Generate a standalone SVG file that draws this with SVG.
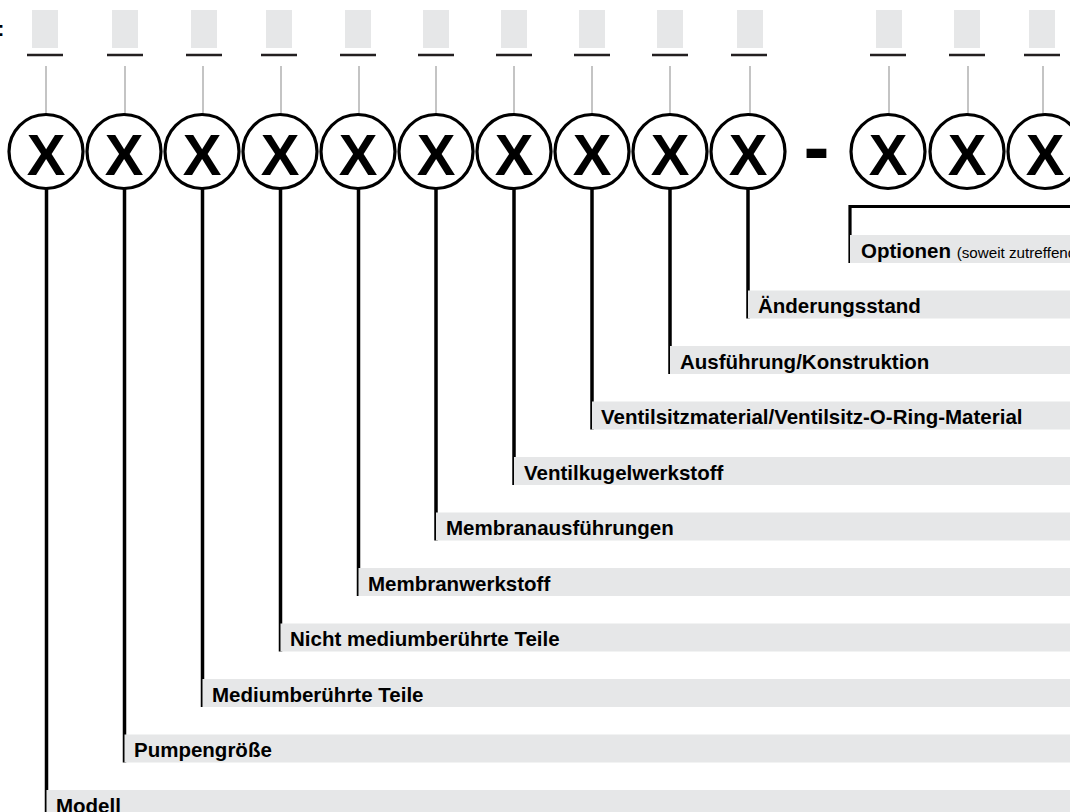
<svg xmlns="http://www.w3.org/2000/svg" width="1070" height="812" viewBox="0 0 1070 812">
<style>
.ph{fill:#e6e7e8}
.ul{stroke:#231f20;stroke-width:2.5}
.th{stroke:#9d9d9d;stroke-width:1.2}
.c{fill:#fff;stroke:#000;stroke-width:3.2}
.x{font-family:"Liberation Sans",Arial,sans-serif;font-weight:bold;font-size:58px;text-anchor:middle;fill:#000}
.bar{fill:#e6e7e8}
.ld{stroke:#000;stroke-width:3.5;fill:none}
.lb{font-family:"Liberation Sans",Arial,sans-serif;font-weight:bold;font-size:20.5px;fill:#000}
.sm{font-weight:normal;font-size:15.2px}
</style>
<rect width="1070" height="812" fill="#fff"/>
<text class="lb" x="-2.5" y="36">:</text>
<g id="slots">
<g id="slot1"><rect class="ph" x="32" y="10" width="26" height="38"/><line class="ul" x1="27" y1="55" x2="63" y2="55"/><line class="th" x1="46" y1="66" x2="46" y2="114"/></g>
<g id="slot2"><rect class="ph" x="112" y="10" width="26" height="38"/><line class="ul" x1="107" y1="55" x2="143" y2="55"/><line class="th" x1="125" y1="66" x2="125" y2="114"/></g>
<g id="slot3"><rect class="ph" x="191" y="10" width="26" height="38"/><line class="ul" x1="186" y1="55" x2="222" y2="55"/><line class="th" x1="203" y1="66" x2="203" y2="114"/></g>
<g id="slot4"><rect class="ph" x="266" y="10" width="26" height="38"/><line class="ul" x1="261" y1="55" x2="297" y2="55"/><line class="th" x1="281" y1="66" x2="281" y2="114"/></g>
<g id="slot5"><rect class="ph" x="345" y="10" width="26" height="38"/><line class="ul" x1="340" y1="55" x2="376" y2="55"/><line class="th" x1="359" y1="66" x2="359" y2="114"/></g>
<g id="slot6"><rect class="ph" x="423" y="10" width="26" height="38"/><line class="ul" x1="418" y1="55" x2="454" y2="55"/><line class="th" x1="436" y1="66" x2="436" y2="114"/></g>
<g id="slot7"><rect class="ph" x="501" y="10" width="26" height="38"/><line class="ul" x1="496" y1="55" x2="532" y2="55"/><line class="th" x1="514" y1="66" x2="514" y2="114"/></g>
<g id="slot8"><rect class="ph" x="579" y="10" width="26" height="38"/><line class="ul" x1="574" y1="55" x2="610" y2="55"/><line class="th" x1="592" y1="66" x2="592" y2="114"/></g>
<g id="slot9"><rect class="ph" x="657" y="10" width="26" height="38"/><line class="ul" x1="652" y1="55" x2="688" y2="55"/><line class="th" x1="670" y1="66" x2="670" y2="114"/></g>
<g id="slot10"><rect class="ph" x="737" y="10" width="26" height="38"/><line class="ul" x1="731" y1="55" x2="767" y2="55"/><line class="th" x1="750" y1="66" x2="750" y2="114"/></g>
<g id="slot11"><rect class="ph" x="876" y="10" width="26" height="38"/><line class="ul" x1="870" y1="55" x2="906" y2="55"/><line class="th" x1="889" y1="66" x2="889" y2="114"/></g>
<g id="slot12"><rect class="ph" x="954" y="10" width="26" height="38"/><line class="ul" x1="949" y1="55" x2="985" y2="55"/><line class="th" x1="968" y1="66" x2="968" y2="114"/></g>
<g id="slot13"><rect class="ph" x="1029" y="10" width="26" height="38"/><line class="ul" x1="1024" y1="55" x2="1060" y2="55"/><line class="th" x1="1043" y1="66" x2="1043" y2="114"/></g>
</g>
<g id="connectors">
<line class="ld" x1="46.5" y1="189" x2="46.5" y2="812"/>
<line class="ld" x1="124.5" y1="189" x2="124.5" y2="762.5"/>
<line class="ld" x1="202.5" y1="189" x2="202.5" y2="707"/>
<line class="ld" x1="280.5" y1="189" x2="280.5" y2="651.5"/>
<line class="ld" x1="358.5" y1="189" x2="358.5" y2="596"/>
<line class="ld" x1="436" y1="189" x2="436" y2="540.5"/>
<line class="ld" x1="514" y1="189" x2="514" y2="485"/>
<line class="ld" x1="592" y1="189" x2="592" y2="429.5"/>
<line class="ld" x1="670" y1="189" x2="670" y2="374"/>
<line class="ld" x1="748" y1="189" x2="748" y2="318.5"/>
<polyline class="ld" points="850,263 850,206.5 1070,206.5" style="stroke-width:3.2"/>
</g>
<g id="circles">
<g id="c1"><circle class="c" cx="46" cy="151.5" r="37"/><text class="x" x="46" y="175">X</text></g>
<g id="c2"><circle class="c" cx="124" cy="151.5" r="37"/><text class="x" x="124" y="175">X</text></g>
<g id="c3"><circle class="c" cx="202" cy="151.5" r="37"/><text class="x" x="202" y="175">X</text></g>
<g id="c4"><circle class="c" cx="280" cy="151.5" r="37"/><text class="x" x="280" y="175">X</text></g>
<g id="c5"><circle class="c" cx="358" cy="151.5" r="37"/><text class="x" x="358" y="175">X</text></g>
<g id="c6"><circle class="c" cx="436" cy="151.5" r="37"/><text class="x" x="436" y="175">X</text></g>
<g id="c7"><circle class="c" cx="514" cy="151.5" r="37"/><text class="x" x="514" y="175">X</text></g>
<g id="c8"><circle class="c" cx="592" cy="151.5" r="37"/><text class="x" x="592" y="175">X</text></g>
<g id="c9"><circle class="c" cx="670" cy="151.5" r="37"/><text class="x" x="670" y="175">X</text></g>
<g id="c10"><circle class="c" cx="748" cy="151.5" r="37"/><text class="x" x="748" y="175">X</text></g>
<text class="x" x="816.5" y="174" style="font-size:78px">-</text>
<g id="c11"><circle class="c" cx="888" cy="151.5" r="37"/><text class="x" x="888" y="175">X</text></g>
<g id="c12"><circle class="c" cx="967" cy="151.5" r="37"/><text class="x" x="967" y="175">X</text></g>
<g id="c13"><circle class="c" cx="1045" cy="151.5" r="37"/><text class="x" x="1045" y="175">X</text></g>
</g>
<g id="labels">
<g id="l-optionen"><rect class="bar" x="850" y="235" width="220" height="28"/><text class="lb" x="861" y="257.5">Optionen <tspan class="sm">(soweit zutreffend)</tspan></text></g>
<g id="l-aend"><rect class="bar" x="748" y="290.5" width="322" height="28"/><text class="lb" x="758" y="313">Änderungsstand</text></g>
<g id="l-ausf"><rect class="bar" x="670" y="346" width="400" height="28"/><text class="lb" x="680" y="368.5">Ausführung/Konstruktion</text></g>
<g id="l-vsitz"><rect class="bar" x="592" y="401.5" width="478" height="28"/><text class="lb" x="601" y="424">Ventilsitzmaterial/Ventilsitz-O-Ring-Material</text></g>
<g id="l-vkugel"><rect class="bar" x="514" y="457" width="556" height="28"/><text class="lb" x="524" y="479.5">Ventilkugelwerkstoff</text></g>
<g id="l-mausf"><rect class="bar" x="436" y="512.5" width="634" height="28"/><text class="lb" x="446" y="535">Membranausführungen</text></g>
<g id="l-mwerk"><rect class="bar" x="358.5" y="568" width="712" height="28"/><text class="lb" x="368" y="590.5">Membranwerkstoff</text></g>
<g id="l-nicht"><rect class="bar" x="280.5" y="623.5" width="790" height="28"/><text class="lb" x="290" y="646">Nicht mediumberührte Teile</text></g>
<g id="l-medium"><rect class="bar" x="202.5" y="679" width="868" height="28"/><text class="lb" x="212" y="701.5">Mediumberührte Teile</text></g>
<g id="l-pumpe"><rect class="bar" x="124.5" y="734.5" width="946" height="28"/><text class="lb" x="134" y="757">Pumpengröße</text></g>
<g id="l-modell"><rect class="bar" x="46.5" y="790" width="1024" height="28"/><text class="lb" x="56" y="812.5">Modell</text></g>
</g>
</svg>
